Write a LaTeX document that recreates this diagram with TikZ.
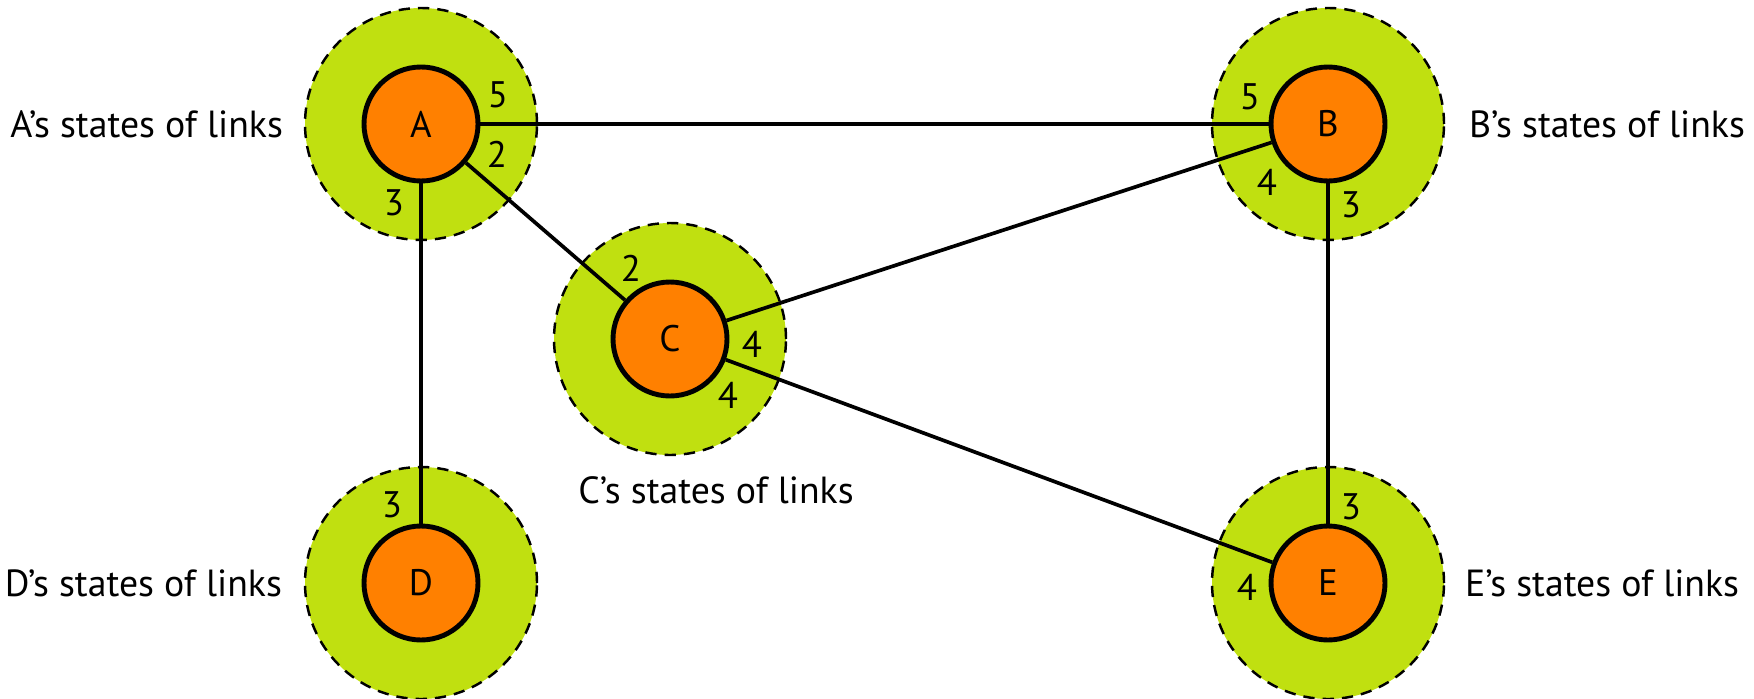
\documentclass[tikz,border=0pt]{standalone}
\usepackage{fontspec}
\setmainfont{PT Sans}
\usepackage{tikz}
\usetikzlibrary{positioning}
\definecolor{areagreen}{RGB}{192,224,16}
\definecolor{routerorange}{RGB}{255,128,0}
\tikzset{
    region/.style={
           circle,
           fill=areagreen,
           draw=black, line width=1.4pt,
           dash pattern=on 6.4pt off 4.6pt,
           minimum size=4.64cm,
           inner sep=0pt,
           },
    router/.style={
           circle,
           fill=routerorange,
           draw=black, line width=2.8pt,
           minimum size=2.28cm,
           inner sep=0pt,
           font=\fontsize{21}{25}\selectfont,
           },
    port/.style={inner sep=0pt, font=\fontsize{21}{25}\selectfont},
    caption/.style={inner sep=0pt, font=\fontsize{21.5}{26}\selectfont},
}

\begin{document}
\begin{tikzpicture}[line width=2.1pt]
  \useasboundingbox (0,0) rectangle (35.08,13.96);
  % link state areas
  \node[region] (Aout) at (8.42,11.48)  {};
  \node[region] (Bout) at (26.56,11.48) {};
  \node[region] (Cout) at (13.40,7.18)  {};
  \node[region] (Dout) at (8.42,2.30)   {};
  \node[region] (Eout) at (26.56,2.30)  {};

  % routers
  \node[router] (A) at (Aout) {A};
  \node[router] (B) at (Bout) {B};
  \node[router] (C) at (Cout) {C};
  \node[router] (D) at (Dout) {D};
  \node[router] (E) at (Eout) {E};

  % links
  \draw (A) -- (B);
  \draw (A) -- (C);
  \draw (A) -- (D);
  \draw (C) -- (B);
  \draw (C) -- (E);
  \draw (B) -- (E);

  % costs
  \node[port] (A5) at (9.96,12.06)  {5};
  \node[port] (A2) at (9.94,10.88)  {2};
  \node[port] (A3) at (7.88,9.90)   {3};
  \node[port] (B5) at (25.00,12.02) {5};
  \node[port] (B4) at (25.34,10.32) {4};
  \node[port] (B3) at (27.02,9.86)  {3};
  \node[port] (C2) at (12.62,8.60)  {2};
  \node[port] (C4b) at (15.04,7.08) {4};
  \node[port] (C4e) at (14.56,6.06) {4};
  \node[port] (D3) at (7.84,3.86)   {3};
  \node[port] (E3) at (27.02,3.82)  {3};
  \node[port] (E4) at (24.94,2.22)  {4};

  % captions
  \node[caption, left=0.38cm of Aout]  (Acap) {A’s states of links};
  \node[caption, right=0.44cm of Bout] (Bcap) {B’s states of links};
  \node[caption, below=0.38cm of Cout, xshift=0.92cm] (Ccap) {C’s states of links};
  \node[caption, left=0.40cm of Dout]  (Dcap) {D’s states of links};
  \node[caption, right=0.36cm of Eout] (Ecap) {E’s states of links};
\end{tikzpicture}
\end{document}
